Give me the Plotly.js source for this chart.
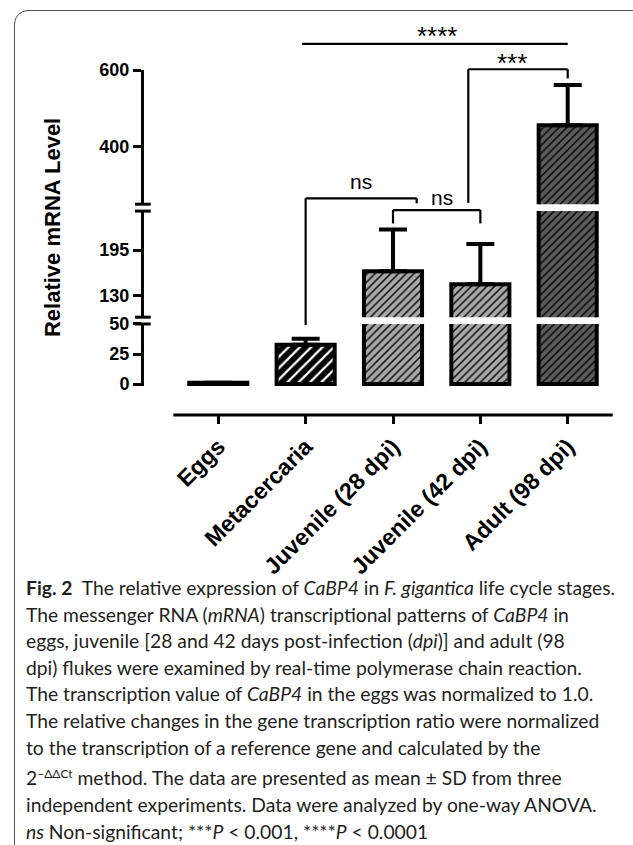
<!DOCTYPE html>
<html><head><meta charset="utf-8">
<script src="https://cdn.plot.ly/plotly-3.0.1.min.js"></script>
<style>
html,body{margin:0;padding:0;background:#fff;width:633px;height:845px;overflow:hidden;}
#chart{position:absolute;left:0;top:0;width:633px;height:845px;}
#frame{position:absolute;left:14px;top:10px;width:700px;height:900px;border:1.5px solid #555;border-top-left-radius:14px;box-sizing:border-box;pointer-events:none;}
#caption{position:absolute;left:26px;top:575px;font-family:Lato,'Open Sans',sans-serif;font-size:19.3px;line-height:26.6px;color:#231f20;white-space:nowrap;}
</style></head><body>
<div id="chart"></div><div id="frame"></div>
<div id="caption"><b>Fig. 2</b>&nbsp; The relative expression of <i>CaBP4</i> in <i>F. gigantica</i> life cycle stages.<br>The messenger RNA (<i>mRNA</i>) transcriptional patterns of <i>CaBP4</i> in<br>eggs, juvenile [28 and 42 days post-infection (<i>dpi</i>)] and adult (98<br>dpi) flukes were examined by real-time polymerase chain reaction.<br>The transcription value of <i>CaBP4</i> in the eggs was normalized to 1.0.<br>The relative changes in the gene transcription ratio were normalized<br>to the transcription of a reference gene and calculated by the<br>2<sup style="font-size:12px">−ΔΔCt</sup> method. The data are presented as mean ± SD from three<br>independent experiments. Data were analyzed by one-way ANOVA.<br><i>ns</i> Non-significant; ***<i>P</i> &lt; 0.001, ****<i>P</i> &lt; 0.0001</div>
<script>
// ---- data ----
const categories = ['Eggs', 'Metacercaria', 'Juvenile (28 dpi)', 'Juvenile (42 dpi)', 'Adult (98 dpi)'];
const meanValues = [1, 32.75, 165, 146.5, 456];
const sdValues = [0, 5, 59, 57, 105];
const ticksLower = [0, 25, 50];
const ticksMiddle = [130, 195];
const ticksUpper = [400, 600];
const fillColors = ['#000000', '#000000', '#a8a8a8', '#a8a8a8', '#5c5c5c'];
const hatchColors = ['#000000', '#ffffff', '#000000', '#000000', '#000000'];

// ---- layout geometry ----
const segRanges = [[-1.7, 50], [100, 250], [250, 600]];
const segDomains = [[0.0733, 0.2304], [0.2476, 0.5162], [0.5337, 0.8734]];
const xRange = [-0.8735, 4.5186];
const idx = categories.map((c, i) => i);

function yp(seg, v) {
  const r = segRanges[seg], d = segDomains[seg];
  return d[0] + (v - r[0]) / (r[1] - r[0]) * (d[1] - d[0]);
}
function xp(v) { return (v - xRange[0]) / (xRange[1] - xRange[0]); }

const traces = [0, 1, 2].map(s => ({
  type: 'bar',
  x: idx,
  y: meanValues,
  yaxis: s === 0 ? 'y' : 'y' + (s + 1),
  width: 0.665,
  marker: {
    color: '#000000',
    line: {color: '#000', width: 4},
    pattern: {shape: '/', fillmode: 'replace', bgcolor: fillColors, fgcolor: hatchColors,
              size: [6, 8, 5.5, 5.5, 5.5], solidity: [0.25, 0.28, 0.25, 0.25, 0.25]}
  },
  error_y: {type: 'data', symmetric: false, array: sdValues, arrayminus: sdValues.map(() => 0),
            color: '#000', thickness: 4, width: 14},
  hoverinfo: 'skip',
  showlegend: false
}));

const yBase = {
  anchor: 'free', position: 0, showline: true, linewidth: 3, linecolor: '#000',
  ticks: 'outside', ticklen: 8, tickwidth: 3, tickcolor: '#000',
  showgrid: false, zeroline: false, fixedrange: true,
  tickfont: {family: 'Liberation Sans, Arial, sans-serif', size: 18, color: '#000', weight: 'bold'}
};

const shapes = [];
const L = (x0, y0, x1, y1, w) => shapes.push({type: 'line', xref: 'paper', yref: 'paper', x0, y0, x1, y1,
  line: {color: '#000', width: w}});
// x axis line
L(xp(-0.515), 0, xp(4.515), 0, 3);
// axis break marks
const bx0 = -0.0149, bx1 = 0.0185;
L(bx0, yp(2, 250), bx1, yp(2, 250), 3);
L(bx0, yp(1, 250), bx1, yp(1, 250), 3);
L(bx0, yp(1, 100), bx1, yp(1, 100), 3);
L(bx0, yp(0, 50), bx1, yp(0, 50), 3);
// significance brackets
const bw = 2.2;
// ****
L(xp(0.96), yp(2, 668), xp(4.0), yp(2, 668), bw);
// ***
L(xp(2.862), yp(2, 602), xp(4.0), yp(2, 602), bw);
L(xp(2.862), yp(2, 602), xp(2.862), yp(2, 253.5), bw);
L(xp(4.0), yp(2, 602), xp(4.0), yp(2, 578), bw);
// ns 1
L(xp(1.0), yp(2, 265.4), xp(2.271), yp(2, 265.4), bw);
L(xp(1.0), yp(2, 265.4), xp(1.0), yp(0, 49.2), bw);
L(xp(2.271), yp(2, 265.4), xp(2.271), yp(2, 252.3), bw);
// ns 2
L(xp(2.0), yp(1, 251.5), xp(3.0), yp(1, 251.5), bw);
L(xp(2.0), yp(1, 251.5), xp(2.0), yp(1, 232.6), bw);
L(xp(3.0), yp(1, 251.5), xp(3.0), yp(1, 232.6), bw);

const sigFont = {family: 'Liberation Sans, Arial, sans-serif', size: 21, color: '#000'};
const starFont = {family: 'Liberation Sans, Arial, sans-serif', size: 26, color: '#000'};
const ann = (x, y, text, font, extra) => Object.assign({xref: 'paper', yref: 'paper', x, y, text, font,
  showarrow: false, xanchor: 'center', yanchor: 'middle'}, extra || {});
const annotations = [
  ann(xp(2.5), yp(2, 689), '****', starFont),
  ann(xp(3.36), yp(2, 618), '***', starFont),
  ann(xp(1.637), yp(2, 309), 'ns', sigFont),
  ann(xp(2.56), yp(2, 268.7), 'ns', sigFont),
  ann(-0.191, 0.4734, '<b>Relative mRNA Level</b>', {family: 'Liberation Sans, Arial, sans-serif', size: 22, color: '#000'}, {textangle: -90})
];

const layout = {
  width: 633, height: 845,
  margin: {l: 142, r: 20, t: 20, b: 430, pad: 0},
  paper_bgcolor: 'rgba(0,0,0,0)', plot_bgcolor: 'rgba(0,0,0,0)',
  showlegend: false,
  xaxis: {
    anchor: 'free', position: 0, range: xRange, tickmode: 'array', tickvals: idx, ticktext: categories,
    showline: false, showgrid: false, zeroline: false, ticks: 'outside', ticklen: 8, tickwidth: 3, tickcolor: '#000',
    tickangle: -45, fixedrange: true,
    tickfont: {family: 'Liberation Sans, Arial, sans-serif', size: 23, color: '#000', weight: 'bold'}
  },
  yaxis: Object.assign({}, yBase, {domain: segDomains[0], range: segRanges[0], tickmode: 'array', tickvals: ticksLower}),
  yaxis2: Object.assign({}, yBase, {domain: segDomains[1], range: segRanges[1], tickmode: 'array', tickvals: ticksMiddle}),
  yaxis3: Object.assign({}, yBase, {domain: segDomains[2], range: segRanges[2], tickmode: 'array', tickvals: ticksUpper}),
  shapes, annotations
};

Plotly.newPlot('chart', traces, layout, {staticPlot: true, displayModeBar: false});
</script>
</body></html>
